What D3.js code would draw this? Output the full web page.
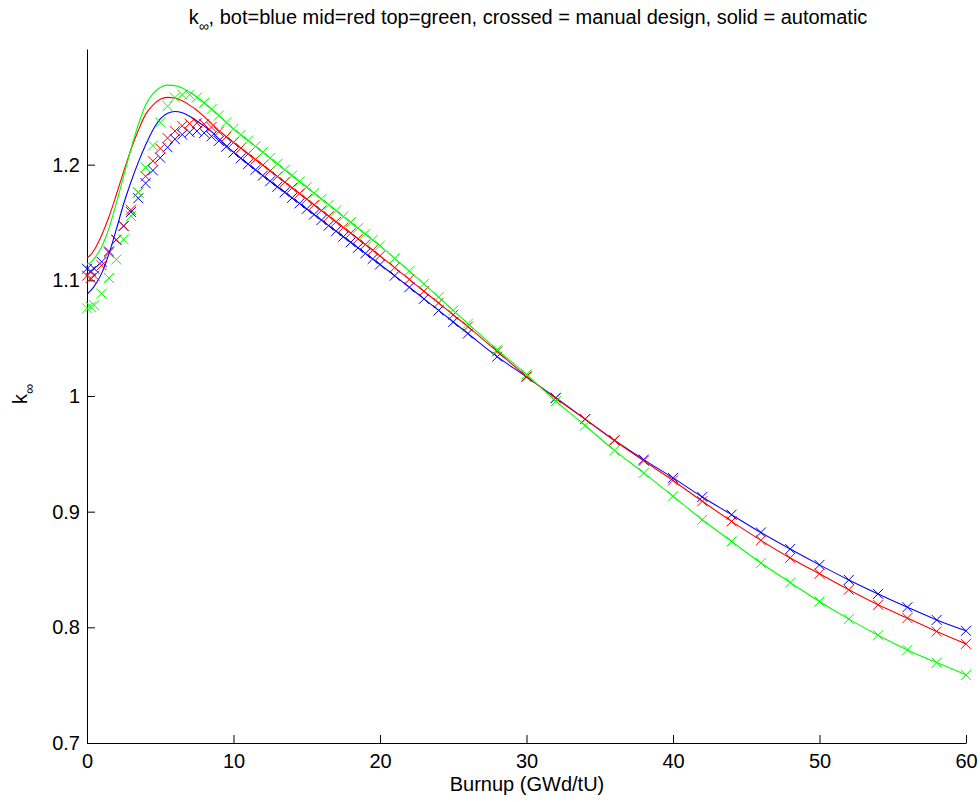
<html>
  <head>
    <title>k-infinity vs burnup</title>
    <script type="text/javascript" src="https://d3js.org/d3.v7.min.js"></script>
    <style type="text/css">
      body { margin: 0; background: #fff; }
      text { font-family: "Liberation Sans", Arial, Helvetica, sans-serif; }
    </style>
  </head>
  <body>
    <script type="text/javascript">

      //Burnup points (GWd/tU), same grid for manual and automatic designs
      var burnup = [0, 0.25, 0.5, 1, 1.5, 2, 2.5, 3, 3.5, 4, 4.5, 5, 5.5, 6, 6.5, 7, 7.5, 8, 8.5, 9, 9.5,
        10, 10.5, 11, 11.5, 12, 12.5, 13, 13.5, 14, 14.5, 15, 15.5, 16, 16.5, 17, 17.5, 18, 18.5, 19, 19.5,
        20, 21, 22, 23, 24, 25, 26, 28, 30, 32, 34, 36, 38, 40, 42, 44, 46, 48, 50, 52, 54, 56, 58, 60];

      //Manual design (crosses)
      var botManual = [1.110, 1.108, 1.110, 1.116, 1.125, 1.135, 1.147, 1.159, 1.171, 1.184, 1.195, 1.206, 1.215, 1.222, 1.226, 1.228, 1.229, 1.2275, 1.2245, 1.2205, 1.2155,
        1.2105, 1.2055, 1.2005, 1.1955, 1.1905, 1.1857, 1.1809, 1.1761, 1.1713, 1.1665, 1.1617, 1.1569, 1.1521, 1.1473, 1.1425, 1.1377, 1.1329, 1.1281, 1.1233, 1.1185,
        1.1137, 1.104, 1.094, 1.084, 1.074, 1.064, 1.054, 1.034, 1.0165, 0.9985, 0.980, 0.9617, 0.945, 0.9292, 0.9127, 0.8974, 0.882, 0.8677, 0.854, 0.841, 0.8289, 0.8174, 0.8064, 0.797];
      var midManual = [1.104, 1.102, 1.104, 1.113, 1.124, 1.135, 1.147, 1.161, 1.176, 1.190, 1.203, 1.214, 1.223, 1.229, 1.2335, 1.2355, 1.236, 1.235, 1.2325, 1.2285, 1.224,
        1.2192, 1.2143, 1.2094, 1.2045, 1.1996, 1.1947, 1.1898, 1.1849, 1.180, 1.1751, 1.1702, 1.1653, 1.1604, 1.1555, 1.1506, 1.1457, 1.1408, 1.1359, 1.131, 1.1261,
        1.1212, 1.111, 1.1008, 1.0906, 1.0804, 1.0702, 1.060, 1.0385, 1.017, 0.998, 0.980, 0.9615, 0.944, 0.927, 0.909, 0.8916, 0.8752, 0.860, 0.8463, 0.8325, 0.8195, 0.808, 0.7964, 0.7857];
      var topManual = [1.0758, 1.077, 1.0785, 1.0885, 1.102, 1.118, 1.1355, 1.1557, 1.176, 1.1976, 1.2165, 1.2365, 1.2505, 1.258, 1.2605, 1.2605, 1.258, 1.2535, 1.248, 1.2425, 1.2365,
        1.231, 1.2259, 1.2209, 1.2158, 1.2108, 1.2057, 1.2007, 1.1956, 1.1906, 1.1855, 1.1805, 1.1754, 1.1704, 1.1653, 1.1603, 1.1552, 1.1502, 1.1451, 1.1401, 1.135,
        1.130, 1.119, 1.108, 1.097, 1.0855, 1.074, 1.0625, 1.040, 1.0186, 0.9955, 0.9745, 0.953, 0.9335, 0.9133, 0.893, 0.8743, 0.8556, 0.8388, 0.8223, 0.8071, 0.7932, 0.7805, 0.7695, 0.7589];

      //Automatic design (solid lines)
      var botAuto = [1.088, 1.091, 1.095, 1.106, 1.123, 1.144, 1.166, 1.185, 1.202, 1.217, 1.230, 1.2395, 1.2445, 1.246, 1.2448, 1.2418, 1.2378, 1.2333, 1.2285, 1.2225, 1.2165,
        1.2108, 1.2055, 1.2005, 1.1955, 1.1905, 1.1857, 1.1809, 1.1761, 1.1713, 1.1665, 1.1617, 1.1569, 1.1521, 1.1473, 1.1425, 1.1377, 1.1329, 1.1281, 1.1233, 1.1185,
        1.1137, 1.104, 1.094, 1.084, 1.074, 1.064, 1.054, 1.034, 1.0165, 0.9985, 0.980, 0.9617, 0.945, 0.9292, 0.9127, 0.8974, 0.882, 0.8677, 0.854, 0.841, 0.8289, 0.8174, 0.8064, 0.797];
      var midAuto = [1.1196, 1.122, 1.1265, 1.139, 1.155, 1.174, 1.194, 1.213, 1.2295, 1.2435, 1.2515, 1.2565, 1.2582, 1.2577, 1.2552, 1.2515, 1.247, 1.2415, 1.2355, 1.2295, 1.2243,
        1.2192, 1.2143, 1.2094, 1.2045, 1.1996, 1.1947, 1.1898, 1.1849, 1.180, 1.1751, 1.1702, 1.1653, 1.1604, 1.1555, 1.1506, 1.1457, 1.1408, 1.1359, 1.131, 1.1261,
        1.1212, 1.111, 1.1008, 1.0906, 1.0804, 1.0702, 1.060, 1.0385, 1.017, 0.998, 0.980, 0.9615, 0.944, 0.927, 0.909, 0.8916, 0.8752, 0.860, 0.8463, 0.8325, 0.8195, 0.808, 0.7964, 0.7857];
      var topAuto = [1.114, 1.1155, 1.119, 1.129, 1.145, 1.1665, 1.190, 1.2135, 1.2345, 1.2515, 1.2615, 1.2668, 1.2688, 1.2683, 1.2662, 1.2628, 1.2585, 1.2535, 1.248, 1.2425, 1.2365,
        1.231, 1.2259, 1.2209, 1.2158, 1.2108, 1.2057, 1.2007, 1.1956, 1.1906, 1.1855, 1.1805, 1.1754, 1.1704, 1.1653, 1.1603, 1.1552, 1.1502, 1.1451, 1.1401, 1.135,
        1.130, 1.119, 1.108, 1.097, 1.0855, 1.074, 1.0625, 1.040, 1.0186, 0.9955, 0.9745, 0.953, 0.9335, 0.9133, 0.893, 0.8743, 0.8556, 0.8388, 0.8223, 0.8071, 0.7932, 0.7805, 0.7695, 0.7589];

      //Axis ticks
      var xTicks = [0, 10, 20, 30, 40, 50, 60];
      var yTicks = [0.7, 0.8, 0.9, 1, 1.1, 1.2];

      var series = [
        { manual: botManual, auto: botAuto, color: "#0000ff" },
        { manual: midManual, auto: midAuto, color: "#ff0000" },
        { manual: topManual, auto: topAuto, color: "#00ff00" }
      ];

      //Width and height
      var w = 980;
      var h = 802;

      var x = d3.scaleLinear().domain([0, 60]).range([87, 966]);
      var y = d3.scaleLinear().domain([0.7, 1.3]).range([743, 49]);

      //Create SVG element
      var svg = d3.select("body")
            .append("svg")
            .attr("width", w)
            .attr("height", h);

      //Axes, ticks pointing inwards like matlab
      var xAxis = d3.axisBottom(x).tickValues(xTicks).tickFormat(d3.format("d"))
        .tickSizeInner(-8).tickSizeOuter(0).tickPadding(11);
      var yAxis = d3.axisLeft(y).tickValues(yTicks).tickFormat(function(d) { return d3.format("")(+d.toFixed(1)); })
        .tickSizeInner(-8).tickSizeOuter(0).tickPadding(7);

      svg.append("g").attr("transform", "translate(0,743)").call(xAxis);
      svg.append("g").attr("transform", "translate(87,0)").call(yAxis);

      svg.selectAll(".tick text").attr("font-size", 20).attr("fill", "#000")
        .style("font-family", "'Liberation Sans', Arial, sans-serif");
      svg.selectAll(".domain, .tick line").attr("stroke", "#000");

      //Lines and crosses
      var line = d3.line()
        .x(function(d, i) { return x(burnup[i]); })
        .y(function(d) { return y(d); })
        .curve(d3.curveMonotoneX);

      var cross = "M-5,-5L5,5M-5,5L5,-5";

      series.forEach(function(s) {
        svg.append("g")
          .selectAll("path")
          .data(s.manual)
          .enter()
          .append("path")
          .attr("d", cross)
          .attr("transform", function(d, i) { return "translate(" + x(burnup[i]) + "," + y(d) + ")"; })
          .attr("stroke", s.color)
          .attr("stroke-width", 1)
          .attr("fill", "none");

        svg.append("path")
          .datum(s.auto)
          .attr("d", line)
          .attr("stroke", s.color)
          .attr("stroke-width", 1.1)
          .attr("fill", "none");
      });

      //Title
      var title = svg.append("text")
        .attr("x", 528)
        .attr("y", 24)
        .attr("text-anchor", "middle")
        .attr("font-size", 20)
        .attr("fill", "#000");
      title.append("tspan").text("k");
      title.append("tspan").attr("dy", 7).attr("font-size", 14).text("∞");
      title.append("tspan").attr("dy", -7).text(", bot=blue mid=red top=green, crossed = manual design, solid = automatic");

      //Axis labels
      svg.append("text")
        .attr("x", 527)
        .attr("y", 791)
        .attr("text-anchor", "middle")
        .attr("font-size", 20)
        .attr("fill", "#000")
        .text("Burnup (GWd/tU)");

      var ylab = svg.append("text")
        .attr("transform", "translate(27,404) rotate(-90)")
        .attr("font-size", 20)
        .attr("fill", "#000");
      ylab.append("tspan").text("k");
      ylab.append("tspan").attr("dy", 7).attr("font-size", 14).text("∞");

    </script>
  </body>
</html>
